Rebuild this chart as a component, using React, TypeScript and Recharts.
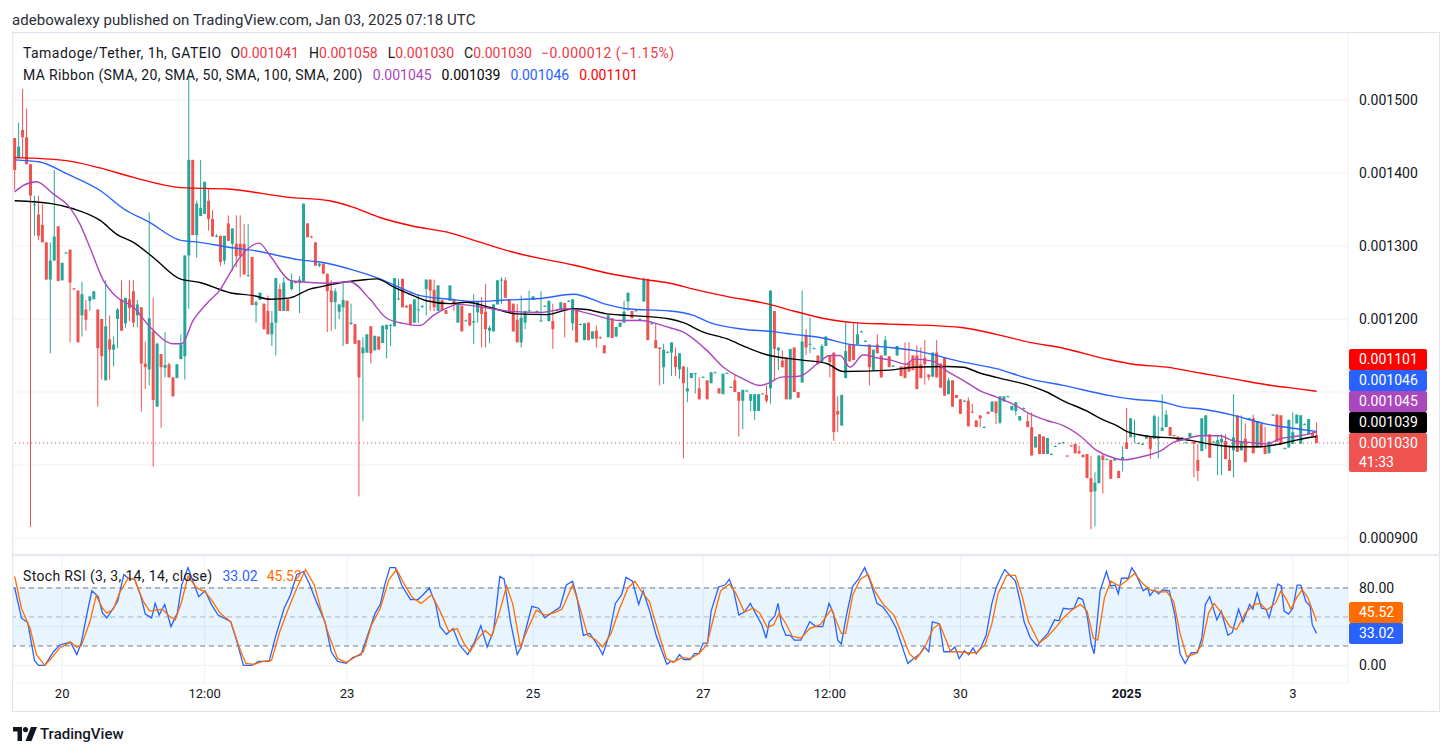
import React from 'react';
import { ComposedChart, Bar, Line, XAxis, YAxis, CartesianGrid, ReferenceLine, ReferenceArea } from 'recharts';

// Prices are in millionths of USDT (1041 = 0.001041). One entry per 1h bar, Dec 19 -> Jan 3.
const OPEN = [
  1448,1421,1459,1449,1412,1356,1343,1329,1305,1254, 1280,1327,1253,1290,1295,1242,1239,1205,1213,1225,
  1227,1213,1200,1116,1172,1158,1200,1227,1194,1227, 1238,1205,1216,1139,1131,1183,1080,1152,1133,1138,
  1120,1119,1145,1149,1287,1418,1315,1341,1344,1362, 1337,1313,1314,1280,1331,1303,1303,1303,1303,1259,
  1285,1219,1226,1221,1211,1179,1195,1241,1211,1227, 1241,1252,1249,1251,1331,1313,1305,1273,1276,1262,
  1239,1223,1210,1216,1225,1193,1193,1171,1153,1154, 1190,1157,1176,1167,1186,1191,1190,1227,1255,1218,
  1220,1195,1212,1217,1241,1254,1240,1211,1226,1212, 1225,1227,1195,1218,1198,1208,1195,1209,1217,1210,
  1184,1183,1220,1253,1253,1227,1221,1199,1168,1195, 1211,1226,1211,1197,1218,1197,1197,1212,1212,1222,
  1224,1194,1211,1193,1171,1195,1173,1184,1175,1164, 1175,1201,1176,1189,1195,1224,1211,1211,1200,1224,
  1255,1194,1171,1161,1134,1154,1154,1149,1131,1135, 1101,1119,1125,1105,1120,1116,1112,1127,1105,1097,
  1126,1107,1116,1100,1088,1102,1088,1074,1074,1098, 1096,1105,1211,1157,1143,1147,1090,1161,1100,1113,
  1177,1165,1160,1150,1141,1163,1150,1154,1074,1054, 1119,1165,1165,1165,1183,1170,1165,1130,1165,1150,
  1150,1149,1136,1150,1135,1135,1141,1150,1150,1138, 1147,1124,1121,1154,1139,1147,1097,1116,1096,1090,
  1088,1088,1073,1061,1068,1052,1073,1073,1087,1058, 1087,1094,1075,1074,1061,1078,1060,1052,1024,1042,
  1039,1015,1015,1026,1030,1031,1013,1027,1029,1019, 1014,1015,982,964,975,1013,1008,1007,1006,992,
  1007,1031,1038,1039,1030,1029,1036,1039,1036,1036, 1047,1052,1052,1041,1039,1033,1031,1038,1032,1007,
  1019,1040,1042,1032,1029,1031,1033,1007,1020,1068, 1020,1036,1064,1064,1024,1056,1025,1016,1069,1069,
  1068,1023,1024,1029,1057,1029,1056,1042,1044,1041,
];
const HIGH = [
  1448,1469,1515,1488,1412,1369,1369,1357,1305,1305, 1404,1327,1277,1292,1295,1242,1239,1251,1226,1231,
  1238,1213,1200,1253,1205,1176,1215,1253,1229,1253, 1253,1226,1216,1169,1346,1229,1168,1152,1182,1140,
  1120,1138,1179,1287,1534,1418,1362,1418,1388,1378, 1349,1316,1314,1314,1342,1324,1342,1342,1330,1330,
  1285,1225,1236,1221,1232,1211,1256,1248,1257,1227, 1262,1252,1259,1358,1331,1314,1305,1277,1276,1262,
  1253,1242,1220,1250,1225,1221,1193,1171,1175,1179, 1190,1177,1176,1191,1192,1193,1256,1255,1255,1219,
  1220,1227,1234,1219,1254,1254,1254,1246,1226,1212, 1246,1227,1221,1218,1199,1208,1234,1223,1230,1248,
  1191,1220,1253,1257,1257,1227,1221,1221,1232,1211, 1239,1231,1212,1238,1219,1225,1221,1213,1223,1222,
  1226,1227,1211,1194,1194,1195,1183,1191,1176,1164, 1205,1201,1189,1195,1225,1236,1211,1212,1201,1257,
  1255,1195,1193,1161,1166,1156,1168,1161,1153,1135, 1134,1126,1126,1120,1121,1116,1127,1128,1105,1125,
  1127,1108,1124,1100,1103,1103,1097,1097,1097,1098, 1109,1239,1211,1161,1157,1147,1159,1161,1100,1239,
  1186,1202,1161,1150,1166,1176,1150,1154,1094,1096, 1195,1165,1195,1195,1184,1171,1165,1158,1179,1150,
  1177,1149,1137,1163,1135,1168,1168,1150,1164,1161, 1171,1124,1154,1171,1139,1147,1120,1116,1096,1090,
  1089,1093,1084,1061,1068,1053,1073,1087,1087,1094, 1094,1095,1081,1086,1067,1079,1072,1072,1039,1042,
  1039,1037,1016,1027,1031,1032,1013,1027,1029,1026, 1014,1015,1012,990,1013,1015,1009,1007,1009,992,
  1026,1078,1064,1062,1031,1030,1041,1039,1069,1066, 1097,1075,1052,1041,1039,1038,1032,1044,1032,1029,
  1064,1068,1042,1033,1040,1042,1042,1027,1097,1068, 1068,1057,1065,1069,1060,1056,1052,1032,1070,1069,
  1068,1024,1062,1072,1069,1068,1057,1063,1046,1058,
];
const LOW = [
  1376,1420,1421,1412,915,1314,1308,1305,1254,1153, 1280,1252,1253,1290,1168,1240,1168,1176,1184,1211,
  1227,1080,1117,1116,1117,1135,1160,1184,1188,1197, 1189,1189,1073,1104,1109,998,1080,1051,1120,1120,
  1094,1119,1145,1117,1214,1315,1284,1341,1344,1321, 1313,1312,1273,1275,1307,1266,1271,1257,1261,1258,
  1219,1195,1226,1186,1179,1163,1150,1211,1211,1211, 1239,1249,1208,1251,1312,1311,1273,1271,1262,1182,
  1184,1186,1200,1163,1166,1192,1166,957,1060,1154, 1139,1157,1158,1167,1146,1163,1190,1226,1216,1215,
  1191,1195,1195,1215,1205,1211,1211,1211,1212,1207, 1225,1211,1195,1183,1197,1191,1166,1195,1161,1161,
  1167,1183,1220,1221,1229,1209,1183,1168,1161,1186, 1210,1226,1210,1196,1217,1197,1159,1211,1212,1175,
  1223,1184,1168,1192,1171,1171,1173,1161,1173,1153, 1175,1174,1176,1189,1195,1211,1201,1210,1199,1224,
  1171,1193,1160,1109,1111,1153,1122,1122,1118,1009, 1086,1119,1098,1090,1119,1090,1112,1126,1098,1097,
  1125,1106,1100,1039,1049,1101,1074,1062,1074,1097, 1085,1084,1116,1130,1134,1090,1090,1100,1092,1113,
  1151,1153,1159,1138,1141,1163,1120,1033,1045,1054, 1119,1142,1144,1165,1182,1169,1109,1130,1153,1120,
  1150,1134,1135,1150,1122,1119,1128,1130,1104,1119, 1110,1116,1121,1120,1106,1095,1097,1080,1092,1070,
  1087,1053,1071,1052,1052,1051,1070,1073,1056,1056, 1087,1093,1075,1068,1061,1077,1052,1013,1024,1015,
  1015,1015,1014,1025,1029,1030,1011,1025,1016,1015, 1010,982,912,916,975,961,1007,981,1006,982,
  991,1022,1038,1030,1029,1028,1036,1008,1036,1009, 1047,1052,1040,1039,1032,1033,1030,1038,983,978,
  1019,1022,1010,1031,986,986,1008,992,983,1018, 1020,1004,1063,1016,1024,1024,1015,1016,1068,1032,
  1028,1022,1024,1029,1057,1029,1055,1042,1040,1030,
];
const CLOSE = [
  1404,1436,1449,1412,1369,1357,1314,1305,1254,1280, 1313,1252,1277,1291,1250,1241,1168,1234,1199,1231,
  1238,1160,1149,1190,1158,1165,1213,1184,1229,1215, 1195,1220,1139,1134,1201,1089,1166,1134,1137,1120,
  1094,1138,1165,1287,1418,1315,1358,1352,1388,1337, 1313,1314,1278,1314,1307,1324,1286,1286,1261,1260,
  1219,1223,1236,1186,1179,1195,1256,1211,1250,1211, 1253,1249,1254,1358,1312,1312,1273,1276,1262,1238,
  1223,1238,1220,1226,1166,1195,1166,1120,1161,1179, 1153,1177,1158,1191,1192,1192,1256,1228,1216,1216,
  1193,1227,1213,1218,1254,1239,1216,1246,1212,1207, 1246,1222,1221,1183,1198,1191,1197,1223,1207,1186,
  1188,1220,1253,1254,1229,1209,1183,1168,1202,1211, 1212,1231,1211,1198,1218,1225,1186,1212,1223,1212,
  1225,1227,1168,1193,1194,1171,1183,1173,1174,1153, 1205,1174,1189,1195,1210,1236,1201,1212,1200,1255,
  1171,1194,1160,1159,1158,1155,1168,1134,1153,1112, 1105,1126,1126,1090,1121,1090,1127,1127,1098,1125,
  1126,1107,1100,1088,1103,1102,1097,1097,1097,1097, 1088,1239,1159,1161,1134,1090,1159,1100,1092,1169,
  1161,1166,1160,1138,1163,1176,1141,1045,1069,1096, 1156,1142,1144,1179,1183,1170,1134,1158,1153,1120,
  1171,1134,1136,1163,1122,1119,1128,1130,1104,1119, 1138,1120,1154,1120,1106,1095,1116,1080,1092,1070,
  1088,1053,1072,1052,1064,1052,1070,1087,1071,1094, 1094,1094,1081,1086,1067,1078,1052,1013,1039,1015,
  1015,1037,1015,1026,1030,1031,1012,1026,1016,1016, 1011,982,963,976,1013,1007,1008,981,1009,982,
  1011,1022,1064,1040,1030,1029,1041,1022,1067,1039, 1051,1069,1040,1040,1032,1038,1031,1044,1029,992,
  1064,1068,1010,1032,1034,1036,1008,992,1038,1018, 1032,1004,1064,1016,1060,1024,1015,1032,1069,1032,
  1028,1023,1062,1045,1069,1068,1056,1063,1040,1030,
];

// MA Ribbon, read as [bar position, value]
const MA20: [number, number][] = [[0,1374],[2.2,1383],[5.5,1388],[9.8,1371],[13.9,1353],[16.5,1330],[19,1298],[22.4,1253],[25.8,1230],[30,1216],[34.2,1189],[40.1,1166],[42.2,1166],[45.1,1198],[48.5,1221],[51.9,1240],[54.4,1263],[56.9,1284],[61.8,1304],[64.5,1287],[69.6,1253],[72.1,1251],[78.8,1249],[84.7,1251],[89.8,1227],[94,1201],[98.2,1194],[102.4,1191],[105.8,1205],[110,1217],[111.7,1220],[115.9,1218],[124.3,1211],[132.8,1209],[139.5,1214],[145.4,1207],[153,1198],[158,1198],[165.6,1188],[169,1182],[174.9,1157],[179.1,1134],[184.1,1118],[188.4,1109],[190.9,1113],[193.4,1120],[198.5,1122],[202.7,1138],[206,1150],[208.6,1150],[211.1,1134],[214.5,1151],[217.8,1147],[221.2,1144],[225.4,1138],[227.1,1145],[232.2,1142],[235.5,1129],[239.7,1116],[243.9,1102],[248.1,1093],[252.4,1083],[256.6,1070],[260.8,1061],[265,1054],[269.2,1040],[273.4,1020],[276.5,1012],[280.2,1007],[286.1,1013],[289.5,1019],[292.8,1031],[296.2,1036],[299.5,1040],[304.6,1040],[308,1033],[312.2,1031],[316.4,1029],[319.8,1036],[324.8,1040],[329,1045]];
const MA50: [number, number][] = [[0,1362],[9.3,1358],[14.8,1351],[21.6,1335],[25.8,1316],[30,1305],[35.1,1284],[41.8,1255],[46.8,1250],[54.4,1236],[60.3,1232],[64.5,1227],[69.6,1229],[74.6,1241],[77.2,1244],[83.9,1251],[87.3,1253],[91.5,1255],[95.7,1244],[100.7,1232],[104.1,1225],[110,1221],[114.2,1223],[120.1,1216],[126.9,1207],[134.4,1206],[141.2,1214],[144.5,1213],[149.6,1207],[154.7,1205],[165.6,1200],[169,1195],[174,1182],[179.9,1173],[185,1161],[190,1151],[198.5,1144],[205.2,1139],[209.4,1128],[221.2,1130],[227.1,1134],[235.5,1135],[239.7,1134],[243.9,1126],[248.1,1120],[255.7,1110],[260.8,1100],[265,1088],[270.9,1074],[275,1062],[278.5,1054],[281,1046],[286.9,1039],[292.8,1037],[297.9,1033],[302.9,1028],[308,1025],[314.7,1025],[318.9,1028],[323.1,1033],[326.5,1037],[329,1039]];
const MA100: [number, number][] = [[0,1418],[6.4,1415],[13.1,1399],[21.6,1376],[27.5,1351],[34.2,1332],[41.8,1308],[46.8,1305],[54.4,1298],[60.3,1294],[72.1,1281],[77.2,1278],[85.6,1267],[92.3,1255],[98.2,1241],[102.5,1232],[110,1227],[115.9,1224],[124.3,1226],[132.8,1228],[141.2,1234],[149.6,1220],[154.7,1214],[165.6,1211],[171.5,1205],[175.7,1195],[184.1,1186],[190.9,1183],[196.8,1179],[205.2,1173],[210.3,1166],[221.2,1161],[227.1,1157],[239.7,1141],[248.1,1132],[256.5,1118],[265,1109],[276.8,1095],[282.7,1090],[289.5,1087],[295.4,1079],[299.5,1077],[308,1068],[316.4,1056],[324.8,1049],[329,1046]];
const MA200: [number, number][] = [[0,1421],[13,1417],[21.5,1407],[30,1394],[42,1380],[54,1378],[68.7,1367],[79.6,1362],[85.6,1353],[92.3,1339],[100.8,1327],[110,1318],[115.9,1308],[127.7,1289],[132.8,1283],[141.2,1274],[149.6,1263],[158,1255],[165.6,1249],[171.5,1241],[179.9,1231],[190.8,1220],[196.8,1211],[205.2,1200],[211.9,1195],[221.2,1193],[227.1,1192],[239.7,1188],[248.1,1179],[256.5,1168],[265,1160],[276,1145],[282.7,1138],[291.1,1134],[299.5,1126],[308,1118],[316.4,1110],[324.8,1104],[329,1101]];

// Stoch RSI, read as [bar position, value]
const STOCH_K: [number, number][] = [[0,80],[1.7,49],[3.3,44],[5,5],[6,0],[7.6,0],[9.8,14],[11.4,21],[14.1,24],[15.7,11],[16.8,23],[18.4,56],[19.5,77],[21.1,71],[22.2,54],[23.3,49],[24.9,59],[26,66],[27.6,94],[28.7,90],[30.3,89],[31.9,71],[33,53],[34.6,49],[35.5,64],[36.5,52],[37.9,63],[39.5,40],[41.1,54],[42.2,83],[43.8,101],[45.4,83],[46.5,71],[48.1,77],[49.7,63],[51.4,52],[54.6,45],[56.2,24],[57.8,0],[60,0],[61.6,4],[64.3,4],[66,31],[68.1,59],[69.7,73],[71.3,94],[73,97],[74.6,83],[76.2,66],[78.4,45],[80,14],[81.6,4],[83.8,2],[85.4,8],[87.5,11],[89.2,31],[91.1,54],[92.4,63],[93.5,83],[94.8,101],[96.2,101],[97.8,83],[100,68],[101.9,68],[103.2,73],[104.8,80],[106.4,63],[107.5,40],[109.1,32],[110.8,38],[112.4,21],[114.5,11],[116.2,24],[117.8,41],[119.4,19],[121,35],[122.6,92],[123.7,89],[125.3,45],[127,11],[128,19],[130.7,61],[132.4,59],[134,49],[135.6,54],[137.8,60],[139.4,83],[141,87],[142.1,70],[143.7,31],[145.3,33],[147,23],[148.6,11],[150.2,31],[151.8,64],[153.4,73],[154.5,91],[156.1,87],[157.7,63],[158.8,77],[160.4,57],[162.1,31],[164.8,1],[165.8,4],[166.9,4],[168,11],[169.1,6],[170.7,6],[171.8,12],[172.9,12],[174,23],[175.1,23],[176,56],[177.9,81],[179.5,83],[180.6,89],[181.7,77],[183,52],[184.4,55],[185.9,64],[187.2,54],[188.8,42],[189.9,28],[190.7,45],[192.1,51],[192.9,64],[193.8,42],[194.9,31],[196,31],[197,26],[198.7,26],[200.9,45],[202.5,40],[204.2,40],[205.8,64],[206.9,54],[208,26],[208.9,22],[210.2,52],[211.8,82],[213.2,89],[214.8,101],[216.2,87],[217.9,64],[219.5,60],[221.1,51],[222.8,38],[224.4,18],[225.7,2],[227.2,7],[228.8,12],[229.9,19],[231,14],[231.9,45],[233.7,43],[234.8,14],[236.3,14],[237.6,19],[238.7,7],[240,15],[241.1,11],[242.2,18],[243,12],[244.1,18],[245.5,31],[246.9,63],[248,80],[249.1,90],[250.2,99],[251.3,94],[252.9,87],[254,68],[255.1,45],[256.7,28],[258.4,20],[259.5,26],[261.1,33],[262.8,47],[263.9,46],[265,59],[266.6,58],[267.7,59],[268.8,70],[269.9,68],[271,52],[272.1,21],[272.8,12],[274.3,77],[275.9,97],[277,82],[278.1,83],[278.9,74],[279.7,90],[281.4,90],[282.3,101],[283.4,94],[285.2,77],[286.3,80],[286.9,72],[288,78],[289.1,74],[290.1,78],[291.8,77],[293.2,52],[294.5,12],[295.8,2],[297.3,13],[298.9,13],[300,28],[300.9,63],[302,71],[303.8,47],[304.9,56],[306.6,31],[307.7,34],[309.3,58],[310.4,45],[312.1,63],[312.9,58],[314,75],[315.1,59],[316.2,58],[317,49],[318.1,66],[319.2,84],[320.1,82],[320.8,56],[321.9,53],[323,59],[324.1,83],[325,83],[326.3,66],[327.4,61],[327.9,42],[329,33.02]];
const STOCH_D: [number, number][] = [[0,92],[1.7,59],[3.9,38],[5.5,11],[7.6,0],[9.2,7],[11.4,18],[14.1,24],[15.7,19],[16.8,20],[19,45],[20.6,72],[22.2,59],[23.3,54],[24.9,58],[26.5,75],[28.7,90],[30.3,89],[32.5,66],[34.1,56],[35.7,57],[37.3,58],[39,51],[40.6,47],[42.2,66],[43.8,92],[46,80],[48.1,76],[49.7,68],[51.9,54],[54.6,45],[56.8,18],[58.4,2],[60.5,1],[62.7,4],[64.9,5],[67,35],[69.2,59],[71.3,80],[73.5,99],[75.7,83],[77.3,59],[79.4,31],[81.6,7],[83.8,3],[85.9,8],[88.1,14],[90.2,42],[92.4,59],[94.6,89],[96.5,99],[98.3,85],[100.5,70],[102.7,64],[105.4,73],[107.5,56],[109.7,35],[111.8,38],[113.5,23],[115.1,14],[116.7,26],[118.9,36],[120.5,30],[122.6,56],[124.3,82],[125.9,63],[127.8,19],[129.7,38],[131.8,57],[134,52],[136.1,54],[138.3,58],[141,83],[142.6,63],[144.8,31],[147,26],[148.6,19],[150.7,33],[152.9,59],[155,80],[156.7,87],[158.3,77],[160.4,66],[162.6,35],[164.7,7],[166.4,3],[168.6,8],[170.7,7],[172.9,12],[174.9,21],[176.8,52],[178.4,77],[180.6,84],[182.2,75],[184.4,55],[186.6,59],[188.3,54],[190.2,39],[191.8,42],[193.2,54],[194.9,43],[196.5,30],[198.7,28],[200.9,38],[203.6,42],[206.4,58],[208.9,33],[210,33],[211.8,73],[213.7,89],[215.7,94],[217.3,77],[219.5,63],[222.2,52],[224.4,30],[226.1,12],[227.7,6],[229.9,18],[232.1,38],[233.7,43],[235.4,26],[236.5,14],[238.7,14],[240.9,13],[243,13],[245.2,21],[246.9,42],[248.5,74],[250.7,93],[252.9,93],[254.5,73],[256.2,45],[258.9,23],[261.1,30],[263.3,40],[265,49],[267.1,57],[269.3,63],[271,56],[272.6,28],[273.7,26],[275.4,70],[277,87],[279.2,82],[280.8,87],[283,95],[285.2,84],[286.9,78],[289.1,76],[291.2,76],[292.9,66],[294.5,33],[296.2,9],[298.4,12],[300,21],[301.7,54],[303.1,64],[305,54],[307.1,40],[308.8,37],[311,54],[313.2,63],[314.8,64],[316.4,57],[318.6,64],[320,77],[321.4,68],[322.5,58],[324.1,71],[325.4,78],[326.8,70],[329,45.52]];

const TIME_TICKS = [12, 48, 84, 131, 174, 206, 239, 281, 323];
const TIME_LABELS = ['20', '12:00', '23', '25', '27', '12:00', '30', '2025', '3'];
const PRICE_TICKS = [900, 1000, 1100, 1200, 1300, 1400, 1500];
const STOCH_TICKS = [0, 40, 80];
const STOCH_BANDS = { upper: 80, middle: 50, lower: 20 };

const LAST = { open: 1041, high: 1058, low: 1030, close: 1030, change: -12, pct: -1.15 };
const MA_LAST = { ma20: 1045, ma50: 1039, ma100: 1046, ma200: 1101 };
const STOCH_LAST = { k: 33.02, d: 45.52 };
const COUNTDOWN = '41:33';

// ---- layout ----
const W = 1453;
const FRAME_L = 13, FRAME_R = 1440, FRAME_T = 33, FRAME_B = 712;
const PLOT_R = 1348;
const AXIS_W = W - PLOT_R;
const MAIN_TOP = 33, MAIN_H = 521;
const PX_PER_UNIT = 0.73;
const YMAX = 1500 + (100 - MAIN_TOP) / PX_PER_UNIT;
const YMIN = YMAX - MAIN_H / PX_PER_UNIT;
const BAR_STEP = 3.957;
const XMIN = -(14.7 - FRAME_L) / BAR_STEP;
const XMAX = XMIN + (PLOT_R - FRAME_L) / BAR_STEP;
const ST_TOP = 556, ST_PLOT_H = 127, ST_AXIS_H = 29;
const ST_PX = 0.967;
const SMAX = (665.3 - ST_TOP) / ST_PX;
const SMIN = SMAX - ST_PLOT_H / ST_PX;

const C_UP = '#26a69a', C_DN = '#ef5350';
const C_MA20 = '#ab47bc', C_MA50 = '#000000', C_MA100 = '#2962ff', C_MA200 = '#ff0000';
const C_K = '#2962ff', C_D = '#ff6d00';
const TXT = '#131722';
const GRID = '#f0f1f4';
const FONT = 'Roboto, "Noto Sans", sans-serif';

const candles = OPEN.map((o, i) => ({ x: i, o, h: HIGH[i], l: LOW[i], c: CLOSE[i] }));
const toPts = (arr: [number, number][]) => arr.map(([x, v]) => ({ x, v }));
const fmtP = (v: number) => (v / 1e6).toFixed(6);

const Candle = (props: any) => {
  const { x, y, width, height, payload } = props;
  if (!payload || y == null) return null;
  const { o, h, l, c } = payload;
  const k = h > l ? height / (h - l) : MAIN_H / (YMAX - YMIN);
  const yO = y + (h - o) * k;
  const yC = y + (h - c) * k;
  const top = Math.min(yO, yC);
  const bh = Math.max(1, Math.abs(yO - yC));
  const cx = x + width / 2;
  const col = c >= o ? C_UP : C_DN;
  return (
    <g>
      <line x1={cx} x2={cx} y1={y} y2={y + height} stroke={col} strokeWidth={1} />
      <rect x={cx - 1.5} y={top} width={3} height={bh} fill={col} />
    </g>
  );
};

const TimeTick = (props: any) => {
  const { x, y, payload } = props;
  const idx = TIME_TICKS.indexOf(payload.value);
  const label = TIME_LABELS[idx] ?? '';
  return (
    <text x={x} y={y} dy="0.71em" textAnchor="middle" fontSize={13} fill={TXT} fontFamily={FONT} fontWeight={label === '2025' ? 700 : 400}>
      {label}
    </text>
  );
};

const priceY = (v: number) => MAIN_TOP + (YMAX - v) * PX_PER_UNIT;
const stochY = (v: number) => ST_TOP + (SMAX - v) * ST_PX;

type Lbl = { v: number; y: number; color: string; text: string; sub?: string; w: number };
type Placed = Lbl & { cy: number; top: number; bottom: number };
function stack(items: Lbl[]): Placed[] {
  const sorted = [...items].sort((a, b) => a.v - b.v);
  let prevTop = Infinity;
  return sorted.map((it) => {
    const cy = Math.min(it.y, prevTop - 10.5);
    prevTop = cy - 10.5;
    return { ...it, cy, top: cy - 10.5, bottom: cy + (it.sub ? 28.5 : 10.5) };
  });
}
// an axis tick label is hidden when a value label box covers it (as on the reference)
const covered = (y: number, boxes: Placed[]) => boxes.some((b) => y > b.top - 8 && y < b.bottom + 8);

export default function App() {
  const priceLabels = stack([
    { v: LAST.close, y: priceY(LAST.close), color: C_DN, text: fmtP(LAST.close), sub: COUNTDOWN, w: 78 },
    { v: MA_LAST.ma50, y: priceY(MA_LAST.ma50), color: C_MA50, text: fmtP(MA_LAST.ma50), w: 78 },
    { v: MA_LAST.ma20, y: priceY(MA_LAST.ma20), color: C_MA20, text: fmtP(MA_LAST.ma20), w: 78 },
    { v: MA_LAST.ma100, y: priceY(MA_LAST.ma100), color: C_MA100, text: fmtP(MA_LAST.ma100), w: 78 },
    { v: MA_LAST.ma200, y: priceY(MA_LAST.ma200), color: C_MA200, text: fmtP(MA_LAST.ma200), w: 78 },
  ]);
  const stochLabels = stack([
    { v: STOCH_LAST.k, y: stochY(STOCH_LAST.k), color: C_K, text: STOCH_LAST.k.toFixed(2), w: 54 },
    { v: STOCH_LAST.d, y: stochY(STOCH_LAST.d), color: C_D, text: STOCH_LAST.d.toFixed(2), w: 54 },
  ]);

  const red = '#f23645';
  const legendStyle: React.CSSProperties = { position: 'absolute', whiteSpace: 'nowrap', fontSize: 14, color: TXT, lineHeight: '18px' };
  const ls: React.CSSProperties = { letterSpacing: 0.45 };

  return (
    <div style={{ position: 'absolute', left: 0, top: 0, width: W, height: 756, background: '#fff', fontFamily: FONT, overflow: 'hidden' }}>
      <div style={{ position: 'absolute', left: 12, top: 10, fontSize: 15, color: '#2a2e39', whiteSpace: 'nowrap', lineHeight: '20px', letterSpacing: 0.05 }}>
        adebowalexy published on TradingView.com, Jan 03, 2025 07:18 UTC
      </div>
      {/* frame */}
      <div style={{ position: 'absolute', left: FRAME_L - 1, top: FRAME_T - 1, width: FRAME_R - FRAME_L + 1, height: FRAME_B - FRAME_T + 1, border: '1px solid #e0e3eb', boxSizing: 'border-box' }} />
      <div style={{ position: 'absolute', left: FRAME_L, top: 554, width: FRAME_R - FRAME_L, height: 2, background: '#e8eaef' }} />

      {/* main pane */}
      <div style={{ position: 'absolute', left: 0, top: MAIN_TOP }}>
        <ComposedChart width={W} height={MAIN_H} data={candles} margin={{ top: 0, right: 0, bottom: 0, left: FRAME_L }}>
          <CartesianGrid stroke={GRID} strokeWidth={1} />
          <XAxis dataKey="x" type="number" domain={[XMIN, XMAX]} allowDataOverflow ticks={TIME_TICKS} height={0} tick={false} axisLine={false} tickLine={false} />
          <YAxis orientation="right" type="number" domain={[YMIN, YMAX]} allowDataOverflow ticks={PRICE_TICKS} width={AXIS_W} axisLine={false} tickLine={false} tickMargin={5}
            tickFormatter={(v: number) => (covered(priceY(v), priceLabels) ? '' : fmtP(v))}
            tick={{ fontSize: 14, fill: TXT, fontFamily: FONT, textAnchor: 'start' }} />
          <ReferenceLine y={LAST.close} stroke={C_DN} strokeDasharray="1 3" strokeWidth={1} />
          <Bar dataKey={(d: any) => [d.l, d.h]} barSize={3} shape={<Candle />} isAnimationActive={false} />
          <Line data={toPts(MA200)} dataKey="v" type="monotone" stroke={C_MA200} strokeWidth={1.4} dot={false} isAnimationActive={false} />
          <Line data={toPts(MA100)} dataKey="v" type="monotone" stroke={C_MA100} strokeWidth={1.4} dot={false} isAnimationActive={false} />
          <Line data={toPts(MA50)} dataKey="v" type="monotone" stroke={C_MA50} strokeWidth={1.4} dot={false} isAnimationActive={false} />
          <Line data={toPts(MA20)} dataKey="v" type="monotone" stroke={C_MA20} strokeWidth={1.4} dot={false} isAnimationActive={false} />
        </ComposedChart>
      </div>

      {/* stoch pane */}
      <div style={{ position: 'absolute', left: 0, top: ST_TOP }}>
        <ComposedChart width={W} height={ST_PLOT_H + ST_AXIS_H} margin={{ top: 0, right: 0, bottom: 0, left: FRAME_L }}>
          <CartesianGrid stroke={GRID} strokeWidth={1} />
          <ReferenceArea y1={STOCH_BANDS.lower} y2={STOCH_BANDS.upper} fill="#2196f3" fillOpacity={0.1} stroke="none" />
          <XAxis dataKey="x" type="number" domain={[XMIN, XMAX]} allowDataOverflow ticks={TIME_TICKS} height={ST_AXIS_H} axisLine={false} tickLine={false} tickMargin={0} tick={<TimeTick />} />
          <YAxis orientation="right" type="number" domain={[SMIN, SMAX]} allowDataOverflow ticks={STOCH_TICKS} width={AXIS_W} axisLine={false} tickLine={false} tickMargin={5}
            tickFormatter={(v: number) => (covered(stochY(v), stochLabels) ? '' : v.toFixed(2))}
            tick={{ fontSize: 14, fill: TXT, fontFamily: FONT, textAnchor: 'start' }} />
          <ReferenceLine y={STOCH_BANDS.upper} stroke="#787b86" strokeDasharray="5 4" />
          <ReferenceLine y={STOCH_BANDS.middle} stroke="#b2b5be" strokeDasharray="5 4" />
          <ReferenceLine y={STOCH_BANDS.lower} stroke="#787b86" strokeDasharray="5 4" />
          <Line data={toPts(STOCH_K)} dataKey="v" type="linear" stroke={C_K} strokeWidth={1.3} dot={false} isAnimationActive={false} />
          <Line data={toPts(STOCH_D)} dataKey="v" type="linear" stroke={C_D} strokeWidth={1.3} dot={false} isAnimationActive={false} />
        </ComposedChart>
      </div>

      {/* legends */}
      <div style={{ ...legendStyle, left: 23, top: 44 }}>
        <span style={ls}>Tamadoge/Tether, 1h, GATEIO</span>
        <span style={{ marginLeft: 9 }}>O</span><span style={{ color: red }}>{fmtP(LAST.open)}</span>
        <span style={{ marginLeft: 10 }}>H</span><span style={{ color: red }}>{fmtP(LAST.high)}</span>
        <span style={{ marginLeft: 10 }}>L</span><span style={{ color: red }}>{fmtP(LAST.low)}</span>
        <span style={{ marginLeft: 10 }}>C</span><span style={{ color: red }}>{fmtP(LAST.close)}</span>
        <span style={{ marginLeft: 9, color: red, ...ls }}>{'\u2212' + fmtP(-LAST.change) + ' (\u2212' + Math.abs(LAST.pct).toFixed(2) + '%)'}</span>
      </div>
      <div style={{ ...legendStyle, left: 23, top: 66 }}>
        <span style={{ letterSpacing: 0.35 }}>MA Ribbon (SMA, 20, SMA, 50, SMA, 100, SMA, 200)</span>
        <span style={{ marginLeft: 10, color: C_MA20 }}>{fmtP(MA_LAST.ma20)}</span>
        <span style={{ marginLeft: 10, color: C_MA50 }}>{fmtP(MA_LAST.ma50)}</span>
        <span style={{ marginLeft: 10, color: C_MA100 }}>{fmtP(MA_LAST.ma100)}</span>
        <span style={{ marginLeft: 10, color: C_MA200 }}>{fmtP(MA_LAST.ma200)}</span>
      </div>
      <div style={{ ...legendStyle, left: 23, top: 567 }}>
        <span style={{ letterSpacing: 0.35 }}>Stoch RSI (3, 3, 14, 14, close)</span>
        <span style={{ marginLeft: 10, color: C_K }}>{STOCH_LAST.k.toFixed(2)}</span>
        <span style={{ marginLeft: 9, color: C_D }}>{STOCH_LAST.d.toFixed(2)}</span>
      </div>

      {/* axis value labels */}
      {priceLabels.map((l, i) => (
        <div key={'p' + i} style={{ position: 'absolute', left: PLOT_R + 1, top: l.top, width: l.w, height: l.bottom - l.top, background: l.color, borderRadius: 2, color: '#fff', fontSize: 14, lineHeight: '21px', paddingLeft: 10, boxSizing: 'border-box' }}>
          <div>{l.text}</div>
          {l.sub && <div style={{ lineHeight: '16px' }}>{l.sub}</div>}
        </div>
      ))}
      {stochLabels.map((l, i) => (
        <div key={'s' + i} style={{ position: 'absolute', left: PLOT_R + 1, top: l.top, width: l.w, height: 21, background: l.color, borderRadius: 2, color: '#fff', fontSize: 14, lineHeight: '21px', paddingLeft: 10, boxSizing: 'border-box' }}>
          {l.text}
        </div>
      ))}

      {/* TradingView logo */}
      <svg style={{ position: 'absolute', left: 13, top: 727 }} width={24} height={14} viewBox="0 0 24 14">
        <path d="M0 0 H9 V14 H4.5 V4.5 H0 Z" fill={TXT} />
        <circle cx={12.5} cy={2.6} r={2.6} fill={TXT} />
        <path d="M18 0 H24 L18.5 14 H12.5 Z" fill={TXT} />
      </svg>
      <div style={{ position: 'absolute', left: 40, top: 724, fontSize: 15, color: TXT, fontWeight: 500, whiteSpace: 'nowrap', lineHeight: '20px' }}>TradingView</div>
    </div>
  );
}
